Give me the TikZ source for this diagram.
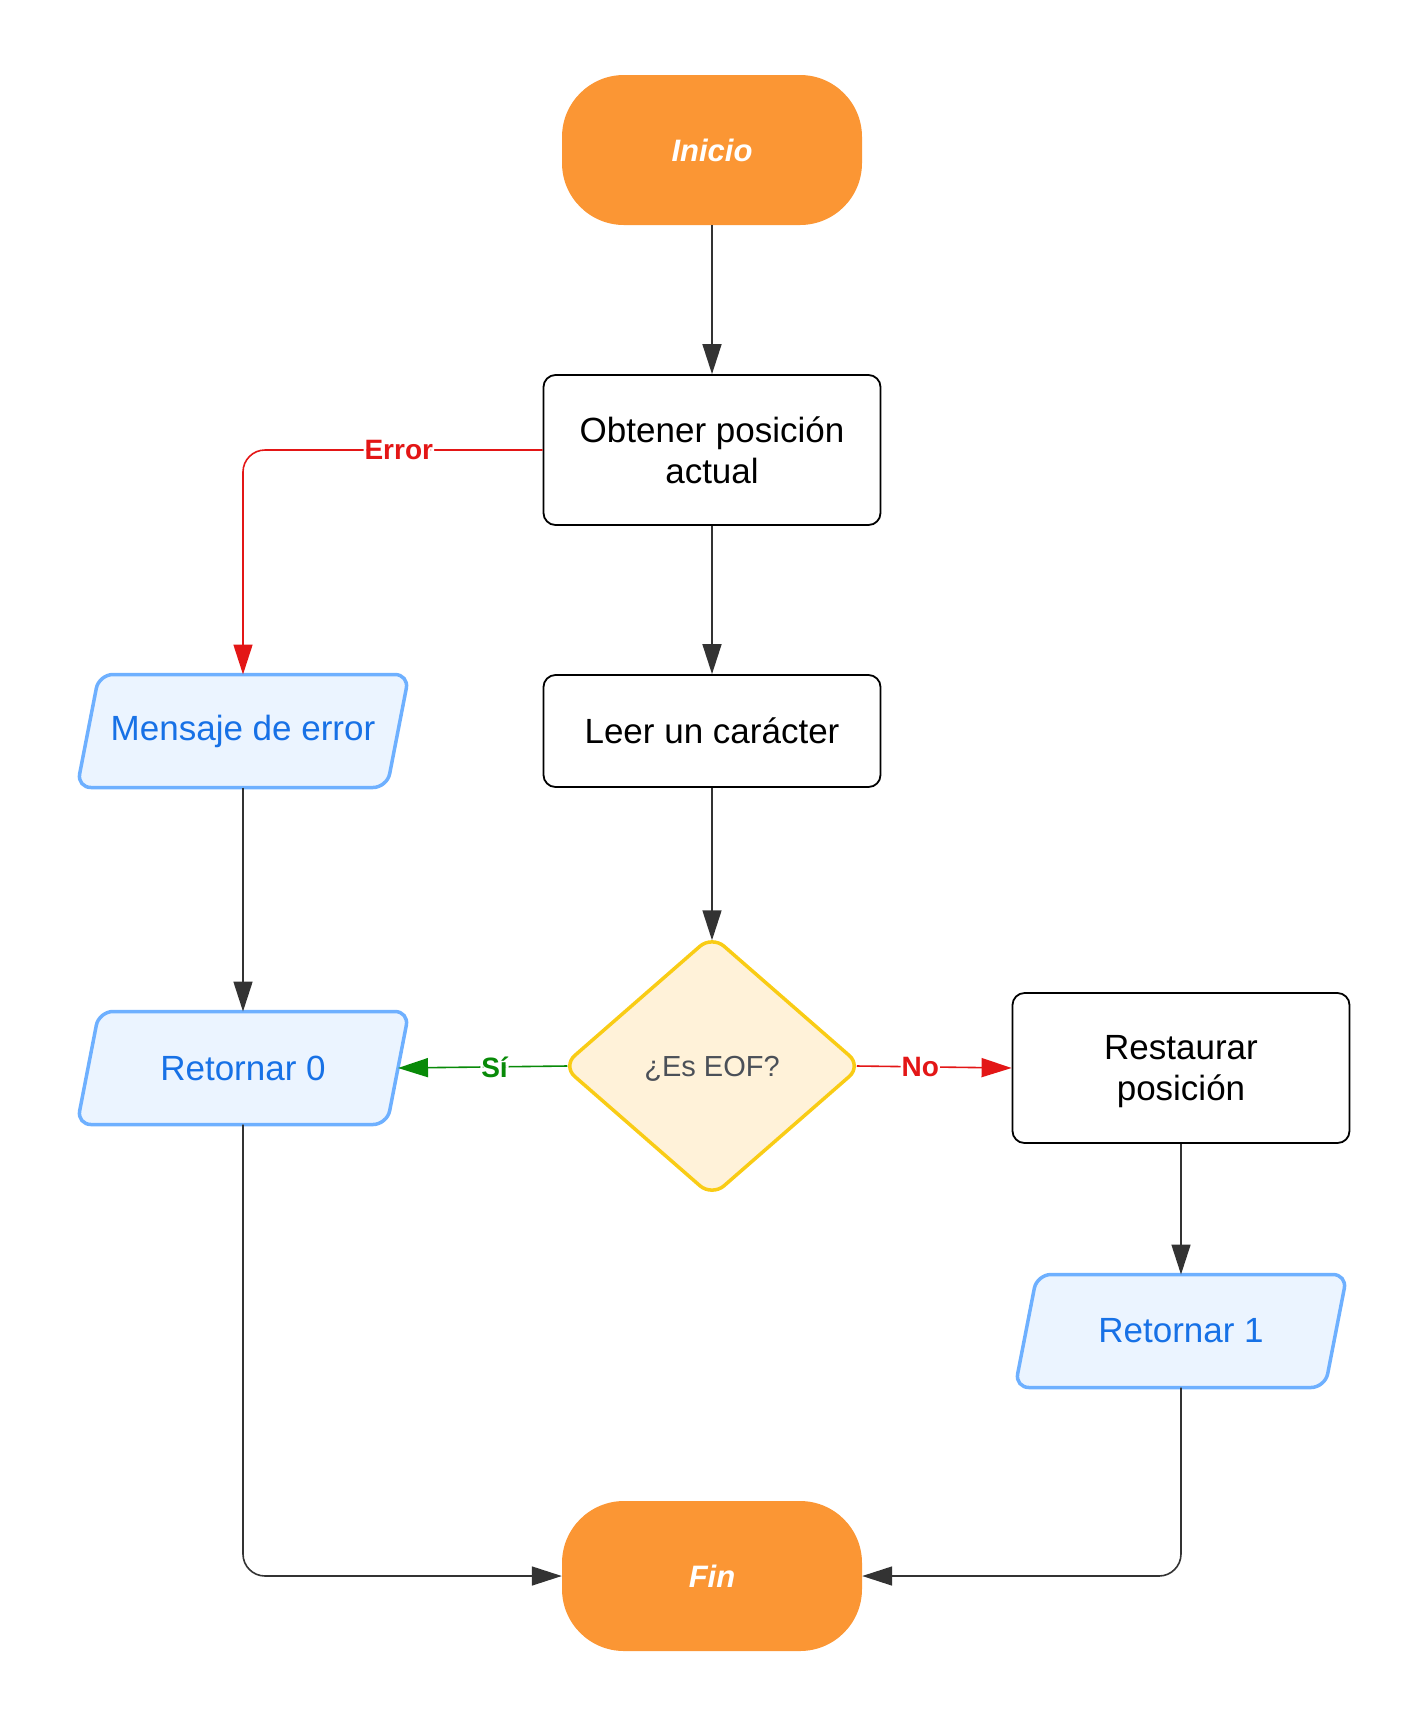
\documentclass[tikz,border=0pt]{standalone}
\usepackage{fontspec}
\setmainfont{Liberation Sans}
\usetikzlibrary{arrows.meta,shapes.geometric,backgrounds}

\definecolor{termfill}{HTML}{FB9634}
\definecolor{iofill}{HTML}{EBF4FF}
\definecolor{ioline}{HTML}{6EB0FF}
\definecolor{iotext}{HTML}{1771E6}
\definecolor{decfill}{HTML}{FFF2D9}
\definecolor{decline}{HTML}{F9CC15}
\definecolor{dectext}{HTML}{4B5058}
\definecolor{errred}{HTML}{E31616}
\definecolor{okgreen}{HTML}{088A08}
\definecolor{dark}{HTML}{333333}

\tikzset{
  terminal/.style={rectangle, rounded corners=62pt, fill=termfill,
    minimum width=300pt, minimum height=150pt, inner sep=0pt,
    text=white, font=\fontsize{31pt}{37pt}\selectfont\bfseries\itshape},
  process/.style={rectangle, rounded corners=12pt, draw=black, line width=1.8pt,
    fill=white, minimum width=337pt, inner sep=0pt, align=center, text depth=0pt,
    font=\fontsize{35pt}{41pt}\selectfont},
  % text box of a data (parallelogram) node; the slanted outline is drawn behind it
  iobox/.style={rectangle, minimum width=310pt, minimum height=113pt, inner sep=0pt,
    outer sep=0pt, text=iotext, font=\fontsize{35pt}{41pt}\selectfont},
  ioshape/.style={draw=ioline, line width=3.5pt, fill=iofill, rounded corners=14pt},
  decision/.style={diamond, rounded corners=16pt, draw=decline, line width=3.5pt,
    fill=decfill, minimum width=300pt, minimum height=262pt, inner sep=0pt,
    text depth=0pt, text=dectext, font=\fontsize{29pt}{35pt}\selectfont},
  flow/.style={draw=dark, line width=1.6pt, rounded corners=22pt,
    -{Triangle[length=30pt,width=19pt]}},
  errflow/.style={flow, draw=errred},
  okflow/.style={flow, draw=okgreen},
  edgelabel/.style={fill=white, inner sep=1pt, font=\fontsize{28pt}{32pt}\selectfont\bfseries}
}

% slanted outline round a data node
\newcommand\dataoutline[1]{%
  \begin{scope}[on background layer]
    \path[ioshape] ([xshift=11pt]#1.north west) -- ([xshift=11pt]#1.north east)
      -- ([xshift=-11pt]#1.south east) -- ([xshift=-11pt]#1.south west) -- cycle;
  \end{scope}}

\begin{document}
\begin{tikzpicture}[x=1pt, y=-1pt]
  \path[use as bounding box] (0,0) rectangle (1425,1725);

  % nodes
  \node[terminal] (inicio) at (712,150) {Inicio};
  \node[process, minimum height=150pt] (obtener) at (712,450) {Obtener posición\\actual};
  \node[process, minimum height=112pt] (leer) at (712,731) {Leer un carácter};
  \node[decision] (eof) at (712,1066) {¿Es EOF?};
  \node[process, minimum height=150pt] (restaurar) at (1181,1068) {Restaurar\\posición};
  \node[iobox] (msg) at (243,731) {Mensaje de error};
  \node[iobox] (ret0) at (243,1068) {Retornar 0};
  \node[iobox] (ret1) at (1181,1331) {Retornar 1};
  \node[terminal] (fin) at (712,1576) {Fin};
  \dataoutline{msg}
  \dataoutline{ret0}
  \dataoutline{ret1}

  % connectors (the diamond's tips are rounded, so its anchors are pulled in)
  \draw[flow] (inicio) -- (obtener);
  \draw[flow] (obtener) -- (leer);
  \draw[flow] (leer) -- ([yshift=-7pt]eof.north);
  \draw[errflow] (obtener.west) -- node[edgelabel, text=errred, pos=0.48] {Error}
    (obtener.west -| msg.north) -- (msg.north);
  \draw[okflow] ([xshift=7pt]eof.west) -- node[edgelabel, text=okgreen, pos=0.43] {Sí} (ret0.east);
  \draw[errflow] ([xshift=-7pt]eof.east) -- node[edgelabel, text=errred, pos=0.41] {No} (restaurar.west);
  \draw[flow] (msg.south) -- (ret0.north);
  \draw[flow] (restaurar.south) -- (ret1.north);
  \draw[flow] (ret0.south) |- (fin.west);
  \draw[flow] (ret1.south) |- (fin.east);
\end{tikzpicture}
\end{document}
